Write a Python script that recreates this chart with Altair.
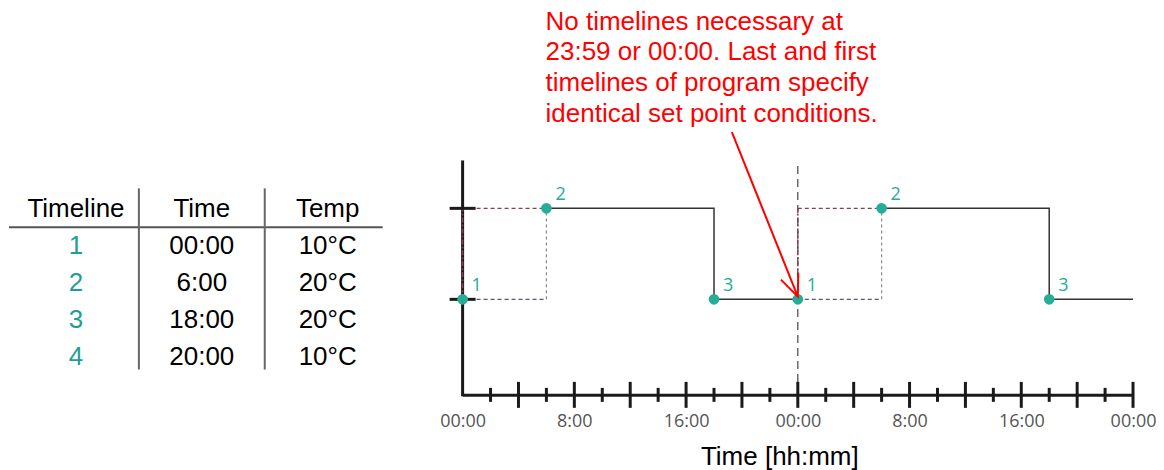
import altair as alt
import pandas as pd

# ---------------- table values ----------------
table_header = ["Timeline", "Time", "Temp"]
table_timeline = ["1", "2", "3", "4"]
table_time = ["00:00", "6:00", "18:00", "20:00"]
table_temp = ["10°C", "20°C", "20°C", "10°C"]

# ---------------- chart values ----------------
point_hours = [0, 6, 18, 24, 30, 42]
point_temps = [10, 20, 10, 10, 20, 10]
point_labels = ["1", "2", "3", "1", "2", "3"]

solid_hours = [6, 18, 18, 24, 30, 42, 42, 48]
solid_temps = [20, 20, 10, 10, 20, 20, 10, 10]
solid_day = [1, 1, 1, 1, 2, 2, 2, 2]

carry_start = [0, 24]
carry_end = [6, 30]
low_temp = 10
high_temp = 20

midnight_hours = [24]

x_label_values = [0, 8, 16, 24, 32, 40, 48]
x_label_texts = ["00:00", "8:00", "16:00", "00:00", "8:00", "16:00", "00:00"]
major_tick_hours = [4, 8, 12, 16, 20, 24, 28, 32, 36, 40, 44, 48]
minor_tick_hours = [2, 6, 10, 14, 18, 22, 26, 30, 34, 38, 42, 46]
y_tick_temps = [10, 20]

annotation_text = ("No timelines necessary at\n23:59 or 00:00. Last and first\n"
                   "timelines of program specify\nidentical set point conditions.")
annotation_at = (5.94, 39.64)
arrow_from = (19.28, 28.38)
arrow_to = (24, 10.3)

# ---------------- styles ----------------
TEAL = "#25ad96"
TEAL_TABLE = "#1e9f94"
AXIS_COLOR = "#1a1a1a"
RED_DASH = "#8e3b50"
X_DOMAIN = [0, 48]
Y_DOMAIN = [-0.5, 42]
AXIS_TOP = 25.1

label_expr = " : ".join(
    f"datum.value == {v} ? '{t}'" for v, t in zip(x_label_values, x_label_texts)
) + " : ''"

xscale = alt.Scale(domain=X_DOMAIN, nice=False, zero=False)
yscale = alt.Scale(domain=Y_DOMAIN, nice=False, zero=False)
xaxis = alt.Axis(
    values=x_label_values, labelExpr=label_expr, title="Time [hh:mm]",
    grid=False, ticks=False, tickSize=0, domain=True, domainColor=AXIS_COLOR,
    domainWidth=3, labelFont="Open Sans", labelFontSize=18, labelColor="#555555",
    labelPadding=18, labelFlush=False, titleFont="Liberation Sans",
    titleFontSize=26, titleFontWeight="normal", titleColor="black",
    titleX=317, titleY=49, titleBaseline="top", titleAlign="center",
)


def X(f):
    return alt.X(f"{f}:Q", scale=xscale, axis=xaxis)


def Y(f):
    return alt.Y(f"{f}:Q", scale=yscale, axis=None)


# midnight divider
df_mid = pd.DataFrame({"h": midnight_hours, "y0": Y_DOMAIN[0], "y1": AXIS_TOP})
midnight = alt.Chart(df_mid).mark_rule(color="#444444", strokeWidth=1.2, strokeDash=[8, 5]).encode(
    x=X("h"), y=Y("y0"), y2="y1")

# program step line
df_solid = pd.DataFrame({"h": solid_hours, "t": solid_temps, "day": solid_day,
                         "i": list(range(len(solid_hours)))})
solid = alt.Chart(df_solid).mark_line(color="#333333", strokeWidth=1.5).encode(
    x=X("h"), y=Y("t"), detail="day:N", order="i:Q")

df_carry = pd.DataFrame({"h0": carry_start, "h1": carry_end, "lo": low_temp, "hi": high_temp})
low_dash = alt.Chart(df_carry).mark_rule(color="#55577a", strokeWidth=1.2, strokeDash=[4, 3]).encode(
    x=X("h0"), x2="h1", y=Y("lo"))
rise_dash = alt.Chart(df_carry).mark_rule(color="#8a8a8a", strokeWidth=1.2, strokeDash=[3, 3]).encode(
    x=X("h1"), y=Y("lo"), y2="hi")
high_dash = alt.Chart(df_carry).mark_rule(color=RED_DASH, strokeWidth=1.2, strokeDash=[4, 3]).encode(
    x=X("h0"), x2="h1", y=Y("hi"))
red_vert = alt.Chart(df_carry).mark_rule(color=RED_DASH, strokeWidth=1.6, strokeDash=[5, 2, 2, 2]).encode(
    x=X("h0"), y=Y("lo"), y2="hi")

# hand-styled axes
df_yaxis = pd.DataFrame({"h": [X_DOMAIN[0]], "y0": [Y_DOMAIN[0]], "y1": [AXIS_TOP]})
y_axis = alt.Chart(df_yaxis).mark_rule(color=AXIS_COLOR, strokeWidth=3, strokeCap="square").encode(
    x=X("h"), y=Y("y0"), y2="y1")
df_yt = pd.DataFrame({"h": X_DOMAIN[0], "t": y_tick_temps})
y_ticks = alt.Chart(df_yt).mark_tick(orient="horizontal", size=26, thickness=3,
                                     color=AXIS_COLOR, opacity=1).encode(x=X("h"), y=Y("t"))
df_major = pd.DataFrame({"h": major_tick_hours, "t": Y_DOMAIN[0]})
df_minor = pd.DataFrame({"h": minor_tick_hours, "t": Y_DOMAIN[0]})
major = alt.Chart(df_major).mark_tick(orient="vertical", size=26, thickness=3,
                                      color=AXIS_COLOR, opacity=1).encode(x=X("h"), y=Y("t"))
minor = alt.Chart(df_minor).mark_tick(orient="vertical", size=14, thickness=3,
                                      color=AXIS_COLOR, opacity=1).encode(x=X("h"), y=Y("t"))

# timeline points
df_pts = pd.DataFrame({"h": point_hours, "t": point_temps, "lab": point_labels})
pts = alt.Chart(df_pts).mark_circle(size=113, color=TEAL, opacity=1).encode(x=X("h"), y=Y("t"))
pt_labels = alt.Chart(df_pts).mark_text(align="left", baseline="middle", dx=9, dy=-13,
                                        font="Open Sans", fontSize=18, color=TEAL).encode(
    x=X("h"), y=Y("t"), text="lab:N")

# annotation
df_note = pd.DataFrame({"h": [annotation_at[0]], "t": [annotation_at[1]], "txt": [annotation_text]})
note = alt.Chart(df_note).mark_text(align="left", baseline="alphabetic", font="Liberation Sans",
                                    fontSize=26, color="#ff0000", lineHeight=30.8,
                                    lineBreak="\n").encode(x=X("h"), y=Y("t"), text="txt:N")
df_arrow = pd.DataFrame({"h0": [arrow_from[0]], "t0": [arrow_from[1]],
                         "h1": [arrow_to[0]], "t1": [arrow_to[1]]})
arrow = alt.Chart(df_arrow).mark_rule(color="#ff0000", strokeWidth=2).encode(
    x=X("h0"), y=Y("t0"), x2="h1", y2="t1")
head = alt.Chart(df_arrow).mark_point(shape="M -0.39 -0.92 L 0 0 L 0.39 -0.92", size=2304,
                                      angle=338.2, filled=False, color="#ff0000",
                                      strokeWidth=2, opacity=1).encode(x=X("h1"), y=Y("t1"))

main = alt.layer(
    midnight, low_dash, rise_dash, high_dash, solid, y_axis, red_vert,
    y_ticks, major, minor, pts, pt_labels, note, arrow, head
).properties(width=671, height=387)

# ---------------- table view ----------------
TX = alt.Scale(domain=[-0.532, 2.437], nice=False, zero=False)
TY = alt.Scale(domain=[-5.424, 4.36], nice=False, zero=False, reverse=True)

df_head = pd.DataFrame({"c": [0, 1, 2], "r": 0, "txt": table_header})
rows = []
for i, (a, b, c) in enumerate(zip(table_timeline, table_time, table_temp)):
    for j, (v, col) in enumerate(zip([a, b, c], table_header)):
        rows.append({"c": j, "r": i + 1, "txt": v, "col": col})
df_rows = pd.DataFrame(rows)

head_txt = alt.Chart(df_head).mark_text(font="Liberation Sans", fontSize=26, color="black",
                                        baseline="middle").encode(
    x=alt.X("c:Q", scale=TX, axis=None), y=alt.Y("r:Q", scale=TY, axis=None), text="txt:N")
row_txt = alt.Chart(df_rows).mark_text(font="Liberation Sans", fontSize=26, baseline="middle").encode(
    x=alt.X("c:Q", scale=TX, axis=None), y=alt.Y("r:Q", scale=TY, axis=None), text="txt:N",
    color=alt.Color("col:N", scale=alt.Scale(domain=table_header,
                                             range=[TEAL_TABLE, "black", "black"]), legend=None))
df_hline = pd.DataFrame({"c0": [-0.532], "c1": [2.437], "r": [0.5]})
hline = alt.Chart(df_hline).mark_rule(color="#555555", strokeWidth=2).encode(
    x=alt.X("c0:Q", scale=TX, axis=None), x2="c1", y=alt.Y("r:Q", scale=TY, axis=None))
df_vline = pd.DataFrame({"c": [0.5, 1.5], "r0": -0.55, "r1": 4.35})
vline = alt.Chart(df_vline).mark_rule(color="#666666", strokeWidth=2).encode(
    x=alt.X("c:Q", scale=TX, axis=None), y=alt.Y("r0:Q", scale=TY, axis=None), y2="r1")

table = alt.layer(hline, vline, head_txt, row_txt).properties(width=374, height=362)

chart = alt.hconcat(table, main, spacing=80, bounds="flush").resolve_scale(
    x="independent", y="independent", color="independent"
).properties(padding=0).configure_view(stroke=None)

chart.save("out.html", embed_options={"renderer": "svg", "actions": False})
